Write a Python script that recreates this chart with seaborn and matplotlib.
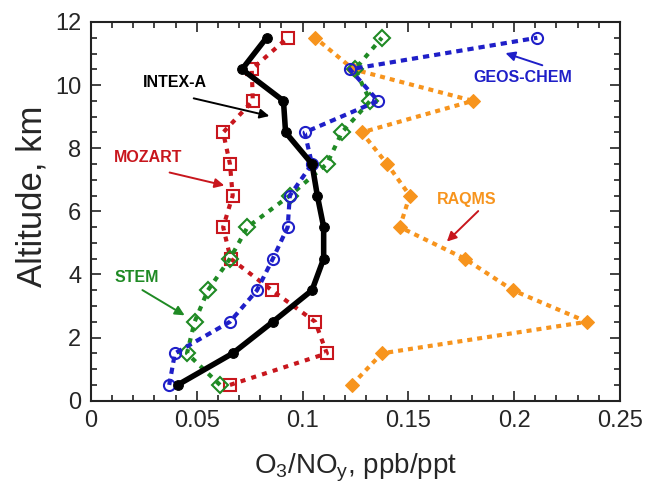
import matplotlib
matplotlib.use('Agg')
import matplotlib.pyplot as plt
import seaborn as sns
import numpy as np
from matplotlib.ticker import MultipleLocator

# altitude levels (km) and O3/NOy profiles
altitude = [0.5, 1.5, 2.5, 3.5, 4.5, 5.5, 6.5, 7.5, 8.5, 9.5, 10.5, 11.5]
intex_a = [0.041, 0.067, 0.086, 0.1045, 0.110, 0.110, 0.107, 0.1045, 0.092, 0.091, 0.0714, 0.083]
mozart = [0.0657, 0.1115, 0.106, 0.0855, 0.066, 0.0625, 0.067, 0.0657, 0.0625, 0.0765, 0.076, 0.093]
geos_chem = [0.037, 0.0397, 0.0657, 0.0785, 0.086, 0.093, 0.094, 0.1045, 0.101, 0.1357, 0.1224, 0.211]
stem = [0.061, 0.0454, 0.049, 0.0553, 0.0657, 0.074, 0.094, 0.1115, 0.1186, 0.132, 0.1248, 0.1375]
raqms = [0.1233, 0.1375, 0.2344, 0.1994, 0.1767, 0.146, 0.1507, 0.14, 0.128, 0.1805, 0.124, 0.106]

sns.set_style('ticks')
plt.rcParams['font.family'] = ['Liberation Sans', 'DejaVu Sans']

RED = '#c8161d'
BLUE = '#1f1fc8'
GREEN = '#1f8a24'
ORANGE = '#f7941d'

fig = plt.figure(figsize=(6.45, 4.99), dpi=100)
ax = fig.add_axes([0.141, 0.197, 0.82, 0.759])

common = dict(orient='y', sort=False, estimator=None, ax=ax)

sns.lineplot(x=raqms, y=altitude, color=ORANGE, linewidth=3, linestyle=(0, (1.2, 1.2)),
             marker='D', markersize=7, markerfacecolor=ORANGE, markeredgecolor=ORANGE, **common)
sns.lineplot(x=mozart, y=altitude, color=RED, linewidth=3, linestyle=(0, (1.2, 1.5)),
             marker='s', markersize=8, markerfacecolor='none', markeredgecolor=RED,
             markeredgewidth=1.5, **common)
sns.lineplot(x=stem, y=altitude, color=GREEN, linewidth=3, linestyle=(0, (1.2, 1.5)),
             marker='D', markersize=8, markerfacecolor='none', markeredgecolor=GREEN,
             markeredgewidth=1.5, **common)
sns.lineplot(x=geos_chem, y=altitude, color=BLUE, linewidth=3, linestyle=(0, (1.5, 1.2)),
             marker='o', markersize=8, markerfacecolor='none', markeredgecolor=BLUE,
             markeredgewidth=1.5, **common)
sns.lineplot(x=intex_a, y=altitude, color='black', linewidth=4, linestyle='-',
             marker='o', markersize=7, markerfacecolor='black', markeredgecolor='black', **common)

ax.set_xlim(0, 0.25)
ax.set_ylim(0, 12)
ax.xaxis.set_major_locator(MultipleLocator(0.05))
ax.xaxis.set_minor_locator(MultipleLocator(0.01))
ax.yaxis.set_major_locator(MultipleLocator(2))
ax.yaxis.set_minor_locator(MultipleLocator(0.5))
ax.set_xticks([0, 0.05, 0.1, 0.15, 0.2, 0.25])
ax.set_xticklabels(['0', '0.05', '0.1', '0.15', '0.2', '0.25'])
ax.tick_params(which='both', direction='in', top=True, right=True, width=1.2, color='#222222')
ax.tick_params(which='major', length=7, labelsize=17, pad=7)
ax.tick_params(which='minor', length=4)
for s in ax.spines.values():
    s.set_linewidth(1.5)
    s.set_color('#222222')

ax.set_ylabel('Altitude, km', fontsize=25)
ax.yaxis.set_label_coords(-0.08, 0.54)
ax.set_xlabel(r'$\mathregular{O_3/NO_y}$, ppb/ppt', fontsize=20, labelpad=14)

# annotations
ax.text(0.0395, 10.09, 'INTEX-A', color='black', fontsize=11.5, fontweight='bold', ha='center', va='center')
ax.annotate('', xy=(0.0856, 9.0), xytext=(0.0473, 9.6),
            arrowprops=dict(arrowstyle='-|>', color='black', lw=1.4, mutation_scale=14))
ax.text(0.0270, 7.7, 'MOZART', color=RED, fontsize=11.5, fontweight='bold', ha='center', va='center')
ax.annotate('', xy=(0.0643, 6.8), xytext=(0.0359, 7.25),
            arrowprops=dict(arrowstyle='-|>', color=RED, lw=1.4, mutation_scale=14))
ax.text(0.0217, 3.91, 'STEM', color=GREEN, fontsize=11.5, fontweight='bold', ha='center', va='center')
ax.annotate('', xy=(0.0454, 2.66), xytext=(0.0232, 3.55),
            arrowprops=dict(arrowstyle='-|>', color=GREEN, lw=1.4, mutation_scale=14))
ax.text(0.2042, 10.25, 'GEOS-CHEM', color=BLUE, fontsize=11.5, fontweight='bold', ha='center', va='center')
ax.annotate('', xy=(0.1947, 11.04), xytext=(0.2146, 10.6),
            arrowprops=dict(arrowstyle='-|>', color=BLUE, lw=1.4, mutation_scale=14))
ax.text(0.1777, 6.37, 'RAQMS', color=ORANGE, fontsize=11.5, fontweight='bold', ha='center', va='center')
ax.annotate('', xy=(0.1673, 4.98), xytext=(0.1840, 6.07),
            arrowprops=dict(arrowstyle='-|>', color=RED, lw=1.4, mutation_scale=14))

fig.savefig('out.png', dpi=100)
